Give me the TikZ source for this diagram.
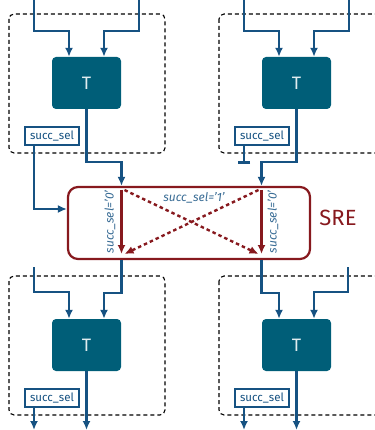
\documentclass[tikz,border=0pt]{standalone}
\usepackage{fontspec}
\setmainfont{Fira Sans}
\usetikzlibrary{arrows.meta}
\definecolor{lblue}{RGB}{22,82,130}
\definecolor{tfill}{RGB}{0,94,120}
\definecolor{sred}{RGB}{135,25,30}
\tikzset{
  grp/.style={draw=black, dash pattern=on 4pt off 3pt, rounded corners=5pt, line width=1.1pt},
  tbox/.style={fill=tfill, rounded corners=4pt, minimum width=69pt, minimum height=52pt, text=white!88!tfill, font=\fontsize{18}{18}\selectfont, inner sep=0pt},
  selbox/.style={draw=lblue, fill=white, line width=1.1pt, minimum width=54pt, minimum height=18pt, inner sep=0pt, text=lblue, font=\fontsize{11.5}{11.5}\selectfont},
  srebox/.style={draw=sred, line width=2.2pt, rounded corners=10pt, minimum width=242pt, minimum height=72pt, inner sep=0pt},
  wire/.style={draw=lblue, line width=2.4pt},
  arr/.style={wire, -{Latex[length=9pt,width=8pt]}},
  rarr/.style={draw=sred, line width=2.4pt, -{Latex[length=9pt,width=8pt]}},
  rdash/.style={draw=sred, line width=2.4pt, dash pattern=on 3.5pt off 3pt, -{Latex[length=9pt,width=8pt]}},
  lab/.style={text=lblue!85!white, font=\fontsize{12}{12}\selectfont\itshape, inner sep=0pt},
}
\begin{document}
\begin{tikzpicture}[x=1pt,y=-1pt]
\useasboundingbox (0,0) rectangle (374,430);
% group frames
\draw[grp] (9,14) rectangle (165,153);
\draw[grp] (219,14) rectangle (390,153);
\draw[grp] (9,276) rectangle (165,415);
\draw[grp] (219,276) rectangle (390,415);
% blocks
\node[tbox] (T1) at (86.5,83) {T};
\node[tbox] (T2) at (296.5,83) {T};
\node[tbox] (T3) at (86.5,345) {T};
\node[tbox] (T4) at (296.5,345) {T};
\node[selbox] (S1) at (52,136) {succ\_sel};
\node[selbox] (S2) at (262,136) {succ\_sel};
\node[selbox] (S3) at (52,398) {succ\_sel};
\node[selbox] (S4) at (262,398) {succ\_sel};
\node[srebox] (SRE) at (189,223) {};
\node[text=sred, font=\fontsize{22}{22}\selectfont] (srelbl) at (338,218) {SRE};
% free ends
\coordinate (i1a) at (34,0);
\coordinate (i1b) at (139,0);
\coordinate (i2a) at (244,0);
\coordinate (i2b) at (349,0);
\coordinate (i3a) at (34,267);
\coordinate (i4b) at (348,267);
\coordinate (o3a) at (34,430);
\coordinate (o3b) at (86.5,430);
\coordinate (o4a) at (244,430);
\coordinate (o4b) at (296.5,430);
% inputs top
\draw[arr] (i1a) -- ++(0,31) -| ([xshift=-17.5pt]T1.north);
\draw[arr] (i1b) -- ++(0,31) -| ([xshift=17.5pt]T1.north);
\draw[arr] (i2a) -- ++(0,31) -| ([xshift=-17.5pt]T2.north);
\draw[arr] (i2b) -- ++(0,31) -| ([xshift=17.5pt]T2.north);
% top outputs to SRE
\draw[arr] (T1.south) -- ++(0,53) -| ([xshift=-67.5pt]SRE.north);
\draw[arr] (T2.south) -- ++(0,53) -| ([xshift=72.5pt]SRE.north);
\draw[arr] ([xshift=-18pt]S1.south) |- ([yshift=14pt]SRE.west);
\draw[wire, -{Bar[width=12pt]}] ([xshift=-18pt]S2.south) -- ++(0,18);
% inside SRE
\coordinate (a1) at (121.5,190);
\coordinate (a2) at (121.5,254);
\coordinate (b1) at (261.5,190);
\coordinate (b2) at (261.5,254);
\draw[rarr] (a1) -- (a2);
\draw[rarr] (b1) -- (b2);
\draw[rdash] ([xshift=3pt]a1) -- ([xshift=-3pt]b2);
\draw[rdash] ([xshift=-3pt]b1) -- ([xshift=3pt]a2);
\node[lab, rotate=90] (l0a) at (110,222) {succ\_sel='0'};
\node[lab, rotate=90] (l0b) at (273,222) {succ\_sel='0'};
\node[lab] (l1) at (194,198) {succ\_sel='1'};
% bottom inputs
\draw[arr] ([xshift=-67.5pt]SRE.south) -- ++(0,33) -| ([xshift=17.5pt]T3.north);
\draw[arr] (i3a) -- ++(0,25) -| ([xshift=-17.5pt]T3.north);
\draw[arr] ([xshift=72.5pt]SRE.south) -- ++(0,33) -| ([xshift=-17.5pt]T4.north);
\draw[arr] (i4b) -- ++(0,25) -| ([xshift=17.5pt]T4.north);
% bottom outputs
\draw[arr] ([xshift=-18pt]S3.south) -- (o3a);
\draw[arr] (T3.south) -- (o3b);
\draw[arr] ([xshift=-18pt]S4.south) -- (o4a);
\draw[arr] (T4.south) -- (o4b);
\end{tikzpicture}
\end{document}
